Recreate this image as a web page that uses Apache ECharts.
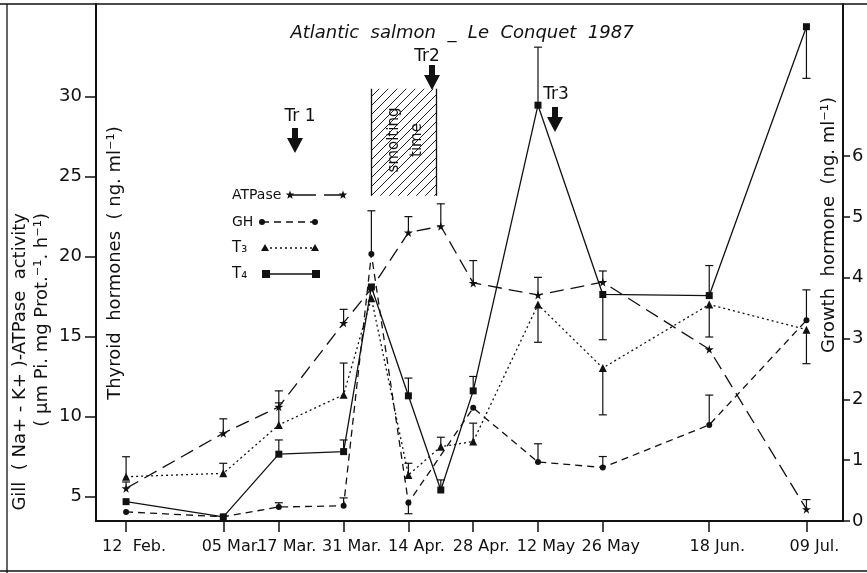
<!DOCTYPE html>
<html>
<head>
<meta charset="utf-8">
<script src="https://cdn.jsdelivr.net/npm/echarts@6/dist/echarts.min.js"></script>
<style>
  html, body { margin: 0; padding: 0; background: #fff; }
  #chart { width: 867px; height: 573px; }
</style>
</head>
<body>
<div id="chart"></div>
<script>
// sampling dates as day of year (1987)
const dateTicks = [43, 64, 76, 90, 104, 118, 132, 146, 169, 190]
const dateLabels = ['12  Feb.', '05 Mar.', '17 Mar.', '31 Mar.', '14 Apr.', '28 Apr.', '12 May', '26 May', '18 Jun.', '09 Jul.']

const leftTicks = [5, 10, 15, 20, 25, 30]
const rightTicks = [0, 1, 2, 3, 4, 5, 6]

// ATPase (left axis)
const atpDays = [43, 64, 76, 90, 96, 104, 111, 118, 132, 146, 169, 190]
const atpVals = [5.5, 8.95, 10.6, 15.85, 18.0, 21.5, 21.9, 18.35, 17.6, 18.4, 14.2, 4.2]
const atpErr = [5.9, 9.85, 11.6, 16.7, null, 22.5, 23.3, 19.75, 18.7, 19.1, null, 4.8]

// T3 (left axis)
const t3Days = [43, 64, 76, 90, 96, 104, 111, 118, 132, 146, 169, 190]
const t3Vals = [6.23, 6.44, 9.47, 11.36, 17.4, 6.34, 8.11, 8.43, 17.0, 13.03, 17.0, 15.43]
const t3Err = [7.48, 7.07, 10.85, 13.34, null, 7.07, 8.7, 9.58, 14.64, 10.1, 14.97, 13.3]

// T4 (left axis)
const t4Days = [43, 64, 76, 90, 96, 104, 111, 118, 132, 146, 169, 190]
const t4Vals = [4.67, 3.72, 7.64, 7.8, 18.1, 11.29, 5.4, 11.6, 29.47, 17.63, 17.56, 34.38]
const t4Err = [null, null, 8.53, 8.53, null, 12.4, 6.03, 12.5, 33.1, 14.8, 19.44, 31.15]

// GH (right axis)
const ghDays = [43, 64, 76, 90, 96, 104, 118, 132, 146, 169, 190]
const ghVals = [0.15, 0.07, 0.23, 0.25, 4.39, 0.3, 1.86, 0.97, 0.88, 1.58, 3.3]
const ghErr = [null, null, 0.3, 0.38, 5.1, 0.12, null, 1.27, 1.06, 2.07, 3.8]

// smolting time box
const smoltDays = [96, 110]
const smoltRange = [23.8, 30.5]

const INK = '#111'
const FONT = 'DejaVu Sans'
const starPath = 'path://M50,0 L61,35 L98,35 L68,57 L79,91 L50,70 L21,91 L32,57 L2,35 L39,35 Z'

// hatch pattern for the smolting box
const hatch = document.createElement('canvas')
hatch.width = 9
hatch.height = 9
const hctx = hatch.getContext('2d')
hctx.strokeStyle = '#222'
hctx.lineWidth = 1
hctx.beginPath()
hctx.moveTo(0, 9); hctx.lineTo(9, 0)
hctx.moveTo(-1, 1); hctx.lineTo(1, -1)
hctx.moveTo(8, 10); hctx.lineTo(10, 8)
hctx.stroke()

const zip = (xs, ys) => xs.map((x, i) => [x, ys[i]])

function lineSeries(name, days, vals, symbol, size, dash, yAxisIndex) {
  return {
    name,
    type: 'line',
    yAxisIndex,
    data: zip(days, vals),
    symbol,
    symbolSize: size,
    itemStyle: { color: INK },
    lineStyle: { color: INK, width: 1.3, type: dash },
    z: 3,
  }
}

function errSeries(days, vals, ends, yAxisIndex) {
  const data = []
  days.forEach((d, i) => {
    if (ends[i] != null) data.push([d, vals[i], ends[i]])
  })
  return {
    type: 'custom',
    yAxisIndex,
    data,
    encode: { x: 0, y: [1, 2] },
    silent: true,
    z: 2,
    renderItem: (params, api) => {
      const x = api.value(0)
      const a = api.coord([x, api.value(1)])
      const b = api.coord([x, api.value(2)])
      const st = { stroke: INK, lineWidth: 1.2 }
      return {
        type: 'group',
        children: [
          { type: 'line', shape: { x1: a[0], y1: a[1], x2: b[0], y2: b[1] }, style: st },
          { type: 'line', shape: { x1: b[0] - 4, y1: b[1], x2: b[0] + 4, y2: b[1] }, style: st },
        ],
      }
    },
  }
}

// small helpers for the hand-drawn annotations
function starPts(cx, cy, r) {
  const pts = []
  for (let i = 0; i < 10; i++) {
    const rr = i % 2 ? r * 0.42 : r
    const a = -Math.PI / 2 + i * Math.PI / 5
    pts.push([cx + rr * Math.cos(a), cy + rr * Math.sin(a)])
  }
  return pts
}
function arrow(cx, top, bottom) {
  const hy = bottom - 15
  return {
    type: 'polygon',
    shape: { points: [[cx - 3, top], [cx + 3, top], [cx + 3, hy], [cx + 8, hy], [cx, bottom], [cx - 8, hy], [cx - 3, hy]] },
    style: { fill: INK },
  }
}
function txt(x, y, text, size, extra, align) {
  return Object.assign({
    type: 'text', x, y,
    style: { text, fill: INK, font: size + 'px "' + FONT + '"', align: align || 'center', verticalAlign: 'middle' },
  }, extra || {})
}
function seg(x1, y1, x2, y2, dash) {
  return { type: 'line', shape: { x1, y1, x2, y2 }, style: { stroke: INK, lineWidth: 1.3, lineDash: dash || null } }
}

const legend = [
  txt(232, 195, 'ATPase', 14, null, 'left'),
  seg(290, 195, 343, 195, [26, 8]),
  { type: 'polygon', shape: { points: starPts(290, 195, 4.5) }, style: { fill: INK } },
  { type: 'polygon', shape: { points: starPts(343, 195, 4.5) }, style: { fill: INK } },

  txt(232, 222, 'GH', 14, null, 'left'),
  seg(262, 222, 315, 222, [7, 5]),
  { type: 'circle', shape: { cx: 262, cy: 222, r: 3 }, style: { fill: INK } },
  { type: 'circle', shape: { cx: 315, cy: 222, r: 3 }, style: { fill: INK } },

  txt(232, 248, 'T₃', 15, null, 'left'),
  seg(265, 248, 315, 248, [2, 3]),
  { type: 'polygon', shape: { points: [[265, 244], [269, 251], [261, 251]] }, style: { fill: INK } },
  { type: 'polygon', shape: { points: [[315, 244], [319, 251], [311, 251]] }, style: { fill: INK } },

  txt(232, 274, 'T₄', 15, null, 'left'),
  seg(266, 274, 316, 274),
  { type: 'rect', shape: { x: 262, y: 270, width: 8, height: 8 }, style: { fill: INK } },
  { type: 'rect', shape: { x: 312, y: 270, width: 8, height: 8 }, style: { fill: INK } },
]

const chart = echarts.init(document.getElementById('chart'))

chart.setOption({
  animation: false,
  backgroundColor: '#fff',
  textStyle: { fontFamily: FONT, color: INK },
  grid: { left: 96, right: 24, top: 4, bottom: 52 },
  xAxis: {
    type: 'value',
    min: 36.5,
    max: 197.9,
    axisLine: { lineStyle: { color: INK, width: 2 } },
    axisTick: { customValues: dateTicks, length: 11, lineStyle: { color: INK, width: 1.5 } },
    axisLabel: {
      customValues: dateTicks,
      formatter: (v) => dateLabels[dateTicks.indexOf(Math.round(v))],
      fontSize: 16,
      color: INK,
      margin: 18,
      padding: [0, 0, 0, 16],
    },
    splitLine: { show: false },
  },
  yAxis: [
    {
      type: 'value',
      position: 'left',
      min: 3.46,
      max: 35.8,
      axisLine: { show: true, lineStyle: { color: INK, width: 2 } },
      axisTick: { show: true, customValues: leftTicks, length: 11, lineStyle: { color: INK, width: 1.5 } },
      axisLabel: { customValues: leftTicks, fontSize: 18, color: INK, margin: 14 },
      splitLine: { show: false },
    },
    {
      type: 'value',
      position: 'right',
      min: 0,
      max: 8.5,
      axisLine: { show: true, lineStyle: { color: INK, width: 2 } },
      axisTick: { show: true, customValues: rightTicks, length: 7, lineStyle: { color: INK, width: 1.5 } },
      axisLabel: { customValues: rightTicks, fontSize: 18, color: INK, margin: 9 },
      splitLine: { show: false },
    },
  ],
  series: [
    Object.assign(lineSeries('ATPase', atpDays, atpVals, starPath, 9, [14, 7], 0), {
      markArea: {
        silent: true,
        itemStyle: { color: { image: hatch, repeat: 'repeat' }, borderWidth: 0 },
        data: [[{ xAxis: smoltDays[0], yAxis: smoltRange[0] }, { xAxis: smoltDays[1], yAxis: smoltRange[1] }]],
      },
      markLine: {
        silent: true,
        symbol: 'none',
        label: { show: false },
        lineStyle: { color: INK, width: 1.3, type: 'solid' },
        data: [
          [{ coord: [smoltDays[0], smoltRange[0]] }, { coord: [smoltDays[0], smoltRange[1]] }],
          [{ coord: [smoltDays[1], smoltRange[0]] }, { coord: [smoltDays[1], smoltRange[1]] }],
        ],
      },
    }),
    lineSeries('T3', t3Days, t3Vals, 'triangle', 8, [2, 3], 0),
    lineSeries('T4', t4Days, t4Vals, 'rect', 7, 'solid', 0),
    lineSeries('GH', ghDays, ghVals, 'circle', 6, [7, 5], 1),
    errSeries(atpDays, atpVals, atpErr, 0),
    errSeries(t3Days, t3Vals, t3Err, 0),
    errSeries(t4Days, t4Vals, t4Err, 0),
    errSeries(ghDays, ghVals, ghErr, 1),
  ],
  graphic: [
    // outer frame
    seg(0, 4, 867, 4),
    seg(7, 4, 7, 573),
    seg(0, 571, 867, 571),

    {
      type: 'text', x: 462, y: 33,
      style: { text: 'Atlantic  salmon  _  Le  Conquet  1987', fill: INK, font: 'italic 18px "' + FONT + '"', align: 'center', verticalAlign: 'middle' },
    },

    // transfer arrows
    txt(300, 117, 'Tr 1', 17), arrow(295, 128, 153),
    txt(427, 57, 'Tr2', 17), arrow(432, 65, 90),
    txt(556, 95, 'Tr3', 17), arrow(555, 107, 132),

    // smolting text
    txt(394, 140, 'smolting', 15, { rotation: Math.PI / 2 }),
    txt(417, 140, 'time', 15, { rotation: Math.PI / 2 }),

    // axis titles
    txt(20, 213, 'Gill  ( Na+ - K+ )-ATPase  activity', 18, { rotation: Math.PI / 2 }, 'right'),
    txt(42, 213, '( µm Pi. mg Prot.⁻¹. h⁻¹)', 18, { rotation: Math.PI / 2 }, 'right'),
    txt(115, 263, 'Thyroid  hormones  ( ng. ml⁻¹)', 18, { rotation: Math.PI / 2 }),
    txt(829, 225, 'Growth  hormone  (ng. ml⁻¹)', 18, { rotation: Math.PI / 2 }),

    ...legend,
  ],
})
</script>
</body>
</html>
